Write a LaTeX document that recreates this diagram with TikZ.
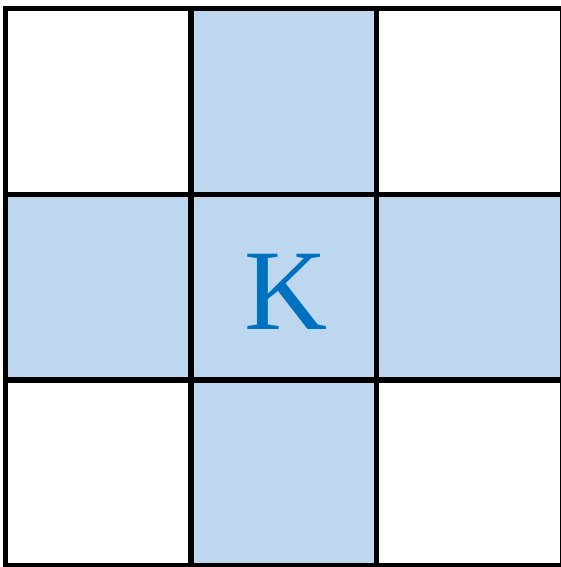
\documentclass[tikz,border=0pt]{standalone}
\usepackage{fontspec}
\setmainfont{Liberation Serif}
\definecolor{crossblue}{HTML}{BDD7EE}
\definecolor{letterblue}{HTML}{0070C0}
\begin{document}
\begin{tikzpicture}[x=1pt, y=1pt]
    \useasboundingbox (0,0) rectangle (561,567);

    % Shaded cells forming the cross
    \foreach \i/\j in {1/0, 0/1, 1/1, 2/1, 1/2}
        \fill[crossblue] (5.5+185.6*\i, 558.5-185.8*\j) rectangle ++(185.6,-185.8);

    % Grid lines
    \foreach \k in {0,...,3} {
        \draw[line width=5.5pt, line cap=rect] (5.5+185.6*\k, 558.5) -- ++(0,-557.4);
        \draw[line width=5.5pt, line cap=rect] (5.5, 558.5-185.8*\k) -- ++(556.8,0);
    }

    % Centre letter
    \node[text=letterblue, font=\fontsize{115}{115}\selectfont, anchor=base, inner sep=0pt] (k) at (286,237) {K};
\end{tikzpicture}
\end{document}
